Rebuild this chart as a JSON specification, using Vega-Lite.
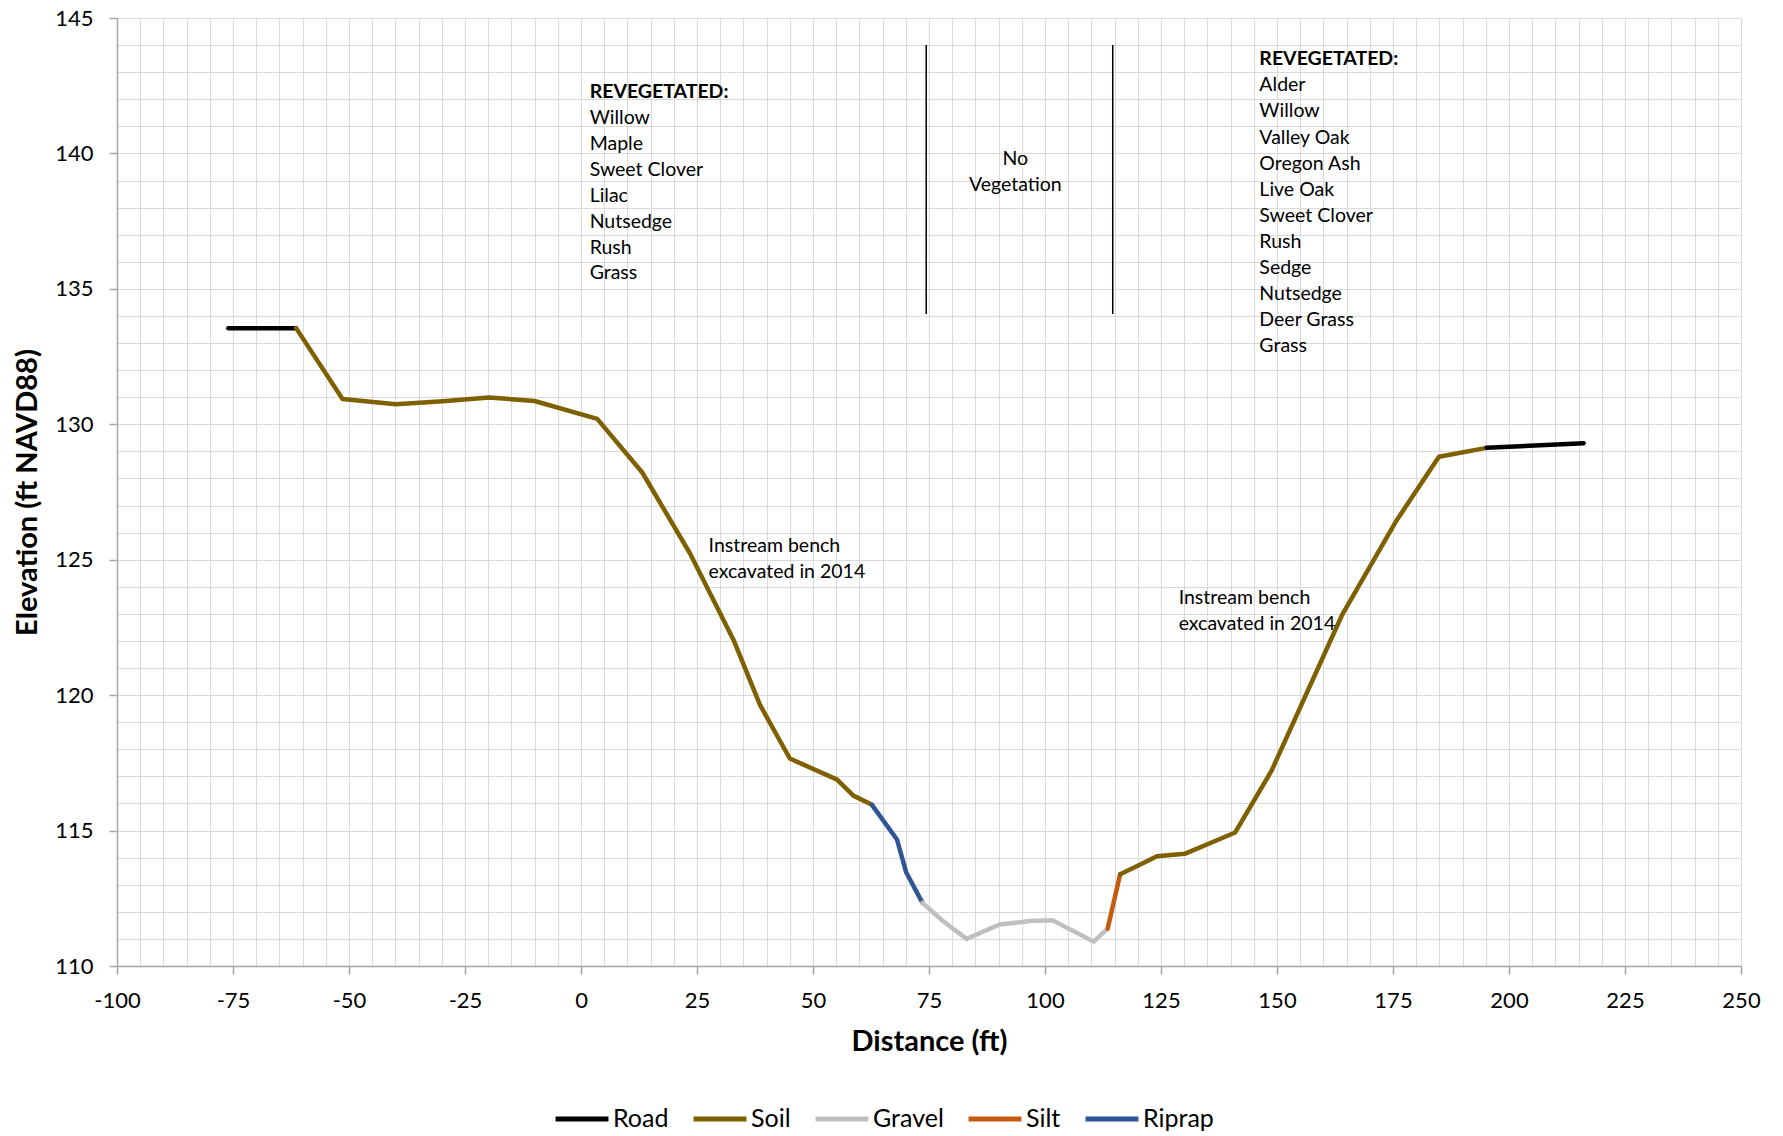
{
  "$schema": "https://vega.github.io/schema/vega-lite/v6.json",
  "width": 1624,
  "height": 948,
  "autosize": {"type": "none"},
  "padding": {"left": 117, "top": 18, "right": 42, "bottom": 170},
  "background": "white",
  "config": {"view": {"stroke": null}, "font": "Lato"},
  "datasets": {
    "profile": [
      {"seg": 1, "material": "Road", "x": -76.0, "y": 133.55},
      {"seg": 1, "material": "Road", "x": -61.4, "y": 133.55},
      {"seg": 2, "material": "Soil", "x": -61.4, "y": 133.55},
      {"seg": 2, "material": "Soil", "x": -51.4, "y": 130.93},
      {"seg": 2, "material": "Soil", "x": -39.9, "y": 130.74},
      {"seg": 2, "material": "Soil", "x": -29.8, "y": 130.85},
      {"seg": 2, "material": "Soil", "x": -19.8, "y": 130.99},
      {"seg": 2, "material": "Soil", "x": -10.0, "y": 130.86},
      {"seg": 2, "material": "Soil", "x": 3.5, "y": 130.2},
      {"seg": 2, "material": "Soil", "x": 13.2, "y": 128.22},
      {"seg": 2, "material": "Soil", "x": 23.5, "y": 125.23},
      {"seg": 2, "material": "Soil", "x": 32.9, "y": 122.03},
      {"seg": 2, "material": "Soil", "x": 38.6, "y": 119.63},
      {"seg": 2, "material": "Soil", "x": 45.0, "y": 117.66},
      {"seg": 2, "material": "Soil", "x": 55.2, "y": 116.88},
      {"seg": 2, "material": "Soil", "x": 58.7, "y": 116.29},
      {"seg": 2, "material": "Soil", "x": 62.7, "y": 115.95},
      {"seg": 3, "material": "Riprap", "x": 62.7, "y": 115.95},
      {"seg": 3, "material": "Riprap", "x": 68.1, "y": 114.67},
      {"seg": 3, "material": "Riprap", "x": 70.1, "y": 113.45},
      {"seg": 3, "material": "Riprap", "x": 73.6, "y": 112.33},
      {"seg": 4, "material": "Gravel", "x": 73.6, "y": 112.33},
      {"seg": 4, "material": "Gravel", "x": 77.8, "y": 111.69},
      {"seg": 4, "material": "Gravel", "x": 83.1, "y": 111.0},
      {"seg": 4, "material": "Gravel", "x": 90.2, "y": 111.53},
      {"seg": 4, "material": "Gravel", "x": 96.8, "y": 111.66},
      {"seg": 4, "material": "Gravel", "x": 101.6, "y": 111.69},
      {"seg": 4, "material": "Gravel", "x": 110.5, "y": 110.9},
      {"seg": 4, "material": "Gravel", "x": 113.5, "y": 111.38},
      {"seg": 5, "material": "Silt", "x": 113.5, "y": 111.38},
      {"seg": 5, "material": "Silt", "x": 116.2, "y": 113.39},
      {"seg": 6, "material": "Soil", "x": 116.2, "y": 113.39},
      {"seg": 6, "material": "Soil", "x": 121.2, "y": 113.8},
      {"seg": 6, "material": "Soil", "x": 124.1, "y": 114.05},
      {"seg": 6, "material": "Soil", "x": 130.1, "y": 114.14},
      {"seg": 6, "material": "Soil", "x": 141.0, "y": 114.93},
      {"seg": 6, "material": "Soil", "x": 148.8, "y": 117.2},
      {"seg": 6, "material": "Soil", "x": 164.0, "y": 122.95},
      {"seg": 6, "material": "Soil", "x": 175.8, "y": 126.46},
      {"seg": 6, "material": "Soil", "x": 184.9, "y": 128.8},
      {"seg": 6, "material": "Soil", "x": 195.2, "y": 129.13},
      {"seg": 7, "material": "Road", "x": 195.2, "y": 129.13},
      {"seg": 7, "material": "Road", "x": 216.1, "y": 129.3}
    ],
    "dividers": [
      {"x": 74.4, "y": 134.07, "y2": 144.0},
      {"x": 114.6, "y": 134.07, "y2": 144.0}
    ],
    "labels": [
      {"kind": "head", "text": "REVEGETATED:", "x": 1.86, "y": 142.27},
      {"kind": "item", "text": "Willow", "x": 1.86, "y": 141.31},
      {"kind": "item", "text": "Maple", "x": 1.86, "y": 140.36},
      {"kind": "item", "text": "Sweet Clover", "x": 1.86, "y": 139.40},
      {"kind": "item", "text": "Lilac", "x": 1.86, "y": 138.44},
      {"kind": "item", "text": "Nutsedge", "x": 1.86, "y": 137.48},
      {"kind": "item", "text": "Rush", "x": 1.86, "y": 136.52},
      {"kind": "item", "text": "Grass", "x": 1.86, "y": 135.57},
      {"kind": "head", "text": "REVEGETATED:", "x": 146.2, "y": 143.47},
      {"kind": "item", "text": "Alder", "x": 146.2, "y": 142.51},
      {"kind": "item", "text": "Willow", "x": 146.2, "y": 141.55},
      {"kind": "item", "text": "Valley Oak", "x": 146.2, "y": 140.58},
      {"kind": "item", "text": "Oregon Ash", "x": 146.2, "y": 139.62},
      {"kind": "item", "text": "Live Oak", "x": 146.2, "y": 138.66},
      {"kind": "item", "text": "Sweet Clover", "x": 146.2, "y": 137.70},
      {"kind": "item", "text": "Rush", "x": 146.2, "y": 136.74},
      {"kind": "item", "text": "Sedge", "x": 146.2, "y": 135.78},
      {"kind": "item", "text": "Nutsedge", "x": 146.2, "y": 134.82},
      {"kind": "item", "text": "Deer Grass", "x": 146.2, "y": 133.85},
      {"kind": "item", "text": "Grass", "x": 146.2, "y": 132.89},
      {"kind": "item", "text": "Instream bench", "x": 27.5, "y": 125.51},
      {"kind": "item", "text": "excavated in 2014", "x": 27.5, "y": 124.55},
      {"kind": "item", "text": "Instream bench", "x": 128.8, "y": 123.59},
      {"kind": "item", "text": "excavated in 2014", "x": 128.8, "y": 122.63},
      {"kind": "center", "text": "No", "x": 93.6, "y": 139.78},
      {"kind": "center", "text": "Vegetation", "x": 93.6, "y": 138.82}
    ]
  },
  "encoding": {
    "x": {
      "field": "x",
      "type": "quantitative",
      "scale": {"domain": [-100, 250], "nice": false, "zero": false},
      "axis": {
        "title": "Distance (ft)",
        "tickCount": 70,
        "labelExpr": "datum.value % 25 === 0 ? '' + datum.value : ''",
        "tickOpacity": {"condition": {"test": "datum.value % 25 === 0", "value": 1}, "value": 0},
        "grid": true,
        "gridColor": "#DADADA",
        "gridWidth": 1,
        "domainColor": "#A6A6A6",
        "domainWidth": 1.5,
        "tickColor": "#A6A6A6",
        "tickWidth": 1.5,
        "tickSize": 8,
        "labelFont": "Lato",
        "labelFontSize": 22,
        "labelColor": "#000000",
        "labelPadding": 16,
        "labelOverlap": false,
        "labelFlush": false,
        "labelBound": false,
        "titleFont": "Lato",
        "titleFontSize": 29,
        "titleFontWeight": "bold",
        "titleColor": "#000000",
        "titlePadding": 16
      }
    },
    "y": {
      "field": "y",
      "type": "quantitative",
      "scale": {"domain": [110, 145], "nice": false, "zero": false},
      "axis": {
        "title": "Elevation (ft NAVD88)",
        "tickCount": 35,
        "labelExpr": "datum.value % 5 === 0 ? '' + datum.value : ''",
        "tickOpacity": {"condition": {"test": "datum.value % 5 === 0", "value": 1}, "value": 0},
        "grid": true,
        "gridColor": "#DADADA",
        "gridWidth": 1,
        "domainColor": "#A6A6A6",
        "domainWidth": 1.5,
        "tickColor": "#A6A6A6",
        "tickWidth": 1.5,
        "tickSize": 8,
        "labelFont": "Lato",
        "labelFontSize": 22,
        "labelColor": "#000000",
        "labelPadding": 16,
        "labelOverlap": false,
        "labelFlush": false,
        "labelBound": false,
        "titleFont": "Lato",
        "titleFontSize": 29,
        "titleFontWeight": "bold",
        "titleColor": "#000000",
        "titlePadding": 12
      }
    }
  },
  "layer": [
    {
      "data": {"name": "profile"},
      "mark": {"type": "line", "strokeWidth": 4.5, "strokeCap": "round", "strokeJoin": "round"},
      "encoding": {
        "detail": {"field": "seg", "type": "nominal"},
        "order": {"field": "x", "type": "quantitative"},
        "color": {
          "field": "material",
          "type": "nominal",
          "scale": {
            "domain": ["Road", "Soil", "Gravel", "Silt", "Riprap"],
            "range": ["#000000", "#7F6000", "#BFBFBF", "#C55A11", "#2F5597"]
          },
          "legend": {
            "title": null,
            "orient": "none",
            "legendX": 436,
            "legendY": 1072,
            "direction": "horizontal",
            "symbolType": "stroke",
            "symbolSize": 2800,
            "symbolStrokeWidth": 5,
            "labelFont": "Lato",
            "labelFontSize": 25,
            "labelColor": "#000000",
            "labelOffset": 2,
            "columnPadding": 14
          }
        }
      }
    },
    {
      "data": {"name": "dividers"},
      "mark": {"type": "rule", "color": "#000000", "strokeWidth": 1.5},
      "encoding": {"y2": {"field": "y2"}}
    },
    {
      "data": {"name": "labels"},
      "transform": [{"filter": "datum.kind === 'head'"}],
      "mark": {"type": "text", "font": "Lato", "fontSize": 19.5, "fontWeight": "bold", "align": "left", "baseline": "middle", "color": "#000000"},
      "encoding": {"text": {"field": "text"}}
    },
    {
      "data": {"name": "labels"},
      "transform": [{"filter": "datum.kind === 'item'"}],
      "mark": {"type": "text", "font": "Lato", "fontSize": 19.5, "align": "left", "baseline": "middle", "color": "#000000"},
      "encoding": {"text": {"field": "text"}}
    },
    {
      "data": {"name": "labels"},
      "transform": [{"filter": "datum.kind === 'center'"}],
      "mark": {"type": "text", "font": "Lato", "fontSize": 19.5, "align": "center", "baseline": "middle", "color": "#000000"},
      "encoding": {"text": {"field": "text"}}
    }
  ]
}
